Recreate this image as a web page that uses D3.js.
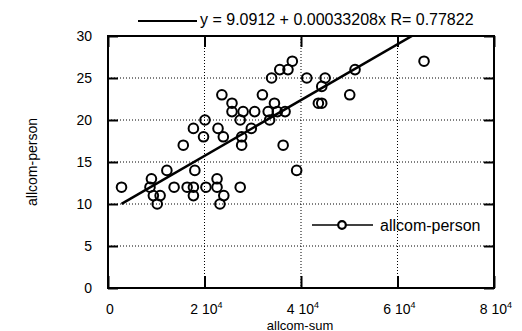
<!DOCTYPE html>
<html>
<head>
<meta charset="utf-8">
<script src="https://cdn.jsdelivr.net/npm/d3@7"></script>
<style>
  html, body { margin: 0; padding: 0; background: #fff; }
  svg { display: block; font-family: "Liberation Sans", Arial, Helvetica, sans-serif; }
</style>
</head>
<body>
<svg id="chart" width="522" height="331"></svg>
<script>
// ---- data ----
const xTicks = [0, 20000, 40000, 60000, 80000];
const xTickLabels = [["0", ""], ["2 10", "4"], ["4 10", "4"], ["6 10", "4"], ["8 10", "4"]];
const yTicks = [0, 5, 10, 15, 20, 25, 30];
const yTickLabels = ["0", "5", "10", "15", "20", "25", "30"];

const sumValues = [
  2800, 8700, 9000, 9400, 10800, 10200, 12200, 13700, 16400, 17700,
  17700, 18000, 20300, 22600, 22600, 24000, 23200, 27400, 15600, 17700,
  19800, 20100, 22800, 23900, 23600, 25700, 25700, 28000, 30400, 27400,
  27700, 27700, 29700, 32000, 33200, 34500, 33500, 35100, 36700, 33900,
  35600, 37300, 38200, 36300, 41200, 39100, 44300, 45000, 43600, 44300,
  50100, 51200, 65500
];
const personValues = [
  12, 12, 13, 11, 11, 10, 14, 12, 12, 12,
  11, 14, 12, 13, 12, 11, 10, 12, 17, 19,
  18, 20, 19, 18, 23, 22, 21, 21, 21, 20,
  18, 17, 19, 23, 21, 22, 20, 21, 21, 25,
  26, 26, 27, 17, 25, 14, 24, 25, 22, 22,
  23, 26, 27
];
const fitIntercept = 9.0912;
const fitSlope = 0.00033208;
const fitR = 0.77822;
const seriesName = "allcom-person";
const xTitle = "allcom-sum";
const yTitle = "allcom-person";

// ---- drawing ----
const svg = d3.select("#chart");
const L = 108, R = 494, T = 36, B = 288;
const x = d3.scaleLinear().domain([0, 80000]).range([L, R]);
const y = d3.scaleLinear().domain([0, 30]).range([B, T]);

svg.append("defs").append("clipPath").attr("id", "plotclip")
  .append("rect").attr("x", L).attr("y", T).attr("width", R - L).attr("height", B - T);

// dotted grid
const grid = svg.append("g").attr("stroke", "#000").attr("stroke-width", 1)
  .attr("stroke-dasharray", "1,2");
grid.selectAll("line.gx").data(xTicks.slice(1, -1)).join("line")
  .attr("x1", d => x(d)).attr("x2", d => x(d)).attr("y1", T).attr("y2", B);
grid.selectAll("line.gy").data(yTicks.slice(1, -1)).join("line")
  .attr("class", "gy")
  .attr("x1", L).attr("x2", R).attr("y1", d => y(d)).attr("y2", d => y(d));

// axes (ticks inward)
function styleAxis(g) {
  g.select(".domain").remove();
  g.selectAll(".tick line").attr("stroke", "#000").attr("stroke-width", 2);
  g.selectAll(".tick text").remove();
}
svg.append("g").attr("transform", `translate(0,${B})`)
  .call(d3.axisBottom(x).tickValues(xTicks).tickSize(-12).tickFormat(""))
  .call(styleAxis);
svg.append("g").attr("transform", `translate(0,${T})`)
  .call(d3.axisTop(x).tickValues(xTicks).tickSize(-11).tickFormat(""))
  .call(styleAxis);
svg.append("g").attr("transform", `translate(${L},0)`)
  .call(d3.axisLeft(y).tickValues(yTicks).tickSize(-10).tickFormat(""))
  .call(styleAxis);
svg.append("g").attr("transform", `translate(${R},0)`)
  .call(d3.axisRight(y).tickValues(yTicks).tickSize(-10).tickFormat(""))
  .call(styleAxis);

// frame
svg.append("rect").attr("x", L).attr("y", T).attr("width", R - L).attr("height", B - T)
  .attr("fill", "none").attr("stroke", "#000").attr("stroke-width", 2);

// tick labels
svg.append("g").selectAll("text").data(yTicks).join("text")
  .attr("x", 92).attr("y", d => y(d)).attr("dy", "0.36em")
  .attr("text-anchor", "end").attr("font-size", 14)
  .text((d, i) => yTickLabels[i]);

const xl = svg.append("g").selectAll("text").data(xTicks).join("text")
  .attr("x", d => x(d) + 2).attr("y", 314)
  .attr("text-anchor", "middle").attr("font-size", 14);
xl.append("tspan").text((d, i) => xTickLabels[i][0]);
xl.append("tspan").attr("font-size", 9).attr("dy", -6).text((d, i) => xTickLabels[i][1]);

// axis titles
svg.append("text").attr("x", 300).attr("y", 329.5).attr("text-anchor", "middle")
  .attr("font-size", 13).text(xTitle);
svg.append("text").attr("transform", "translate(37,162) rotate(-90)")
  .attr("text-anchor", "middle").attr("font-size", 14).text(yTitle);

// regression line
const xExt = d3.extent(sumValues);
svg.append("line").attr("clip-path", "url(#plotclip)")
  .attr("x1", x(xExt[0])).attr("y1", y(fitIntercept + fitSlope * xExt[0]))
  .attr("x2", x(xExt[1])).attr("y2", y(fitIntercept + fitSlope * xExt[1]))
  .attr("stroke", "#000").attr("stroke-width", 2.5);

// points
svg.append("g").selectAll("circle").data(sumValues).join("circle")
  .attr("cx", d => x(d)).attr("cy", (d, i) => y(personValues[i]))
  .attr("r", 4.8).attr("fill", "none").attr("stroke", "#000").attr("stroke-width", 2);

// top legend (fit)
svg.append("line").attr("x1", 138).attr("x2", 197).attr("y1", 21).attr("y2", 21)
  .attr("stroke", "#000").attr("stroke-width", 2);
svg.append("text").attr("x", 200).attr("y", 25).attr("font-size", 16)
  .text(`y = ${fitIntercept} + ${fitSlope.toFixed(8)}x R= ${fitR}`);

// series legend
svg.append("line").attr("x1", 312).attr("x2", 373).attr("y1", 225).attr("y2", 225)
  .attr("stroke", "#000").attr("stroke-width", 1.5);
svg.append("circle").attr("cx", 342).attr("cy", 225).attr("r", 3.8)
  .attr("fill", "#fff").attr("stroke", "#000").attr("stroke-width", 2.2);
svg.append("text").attr("x", 380).attr("y", 231).attr("font-size", 16).text(seriesName);
</script>
</body>
</html>
